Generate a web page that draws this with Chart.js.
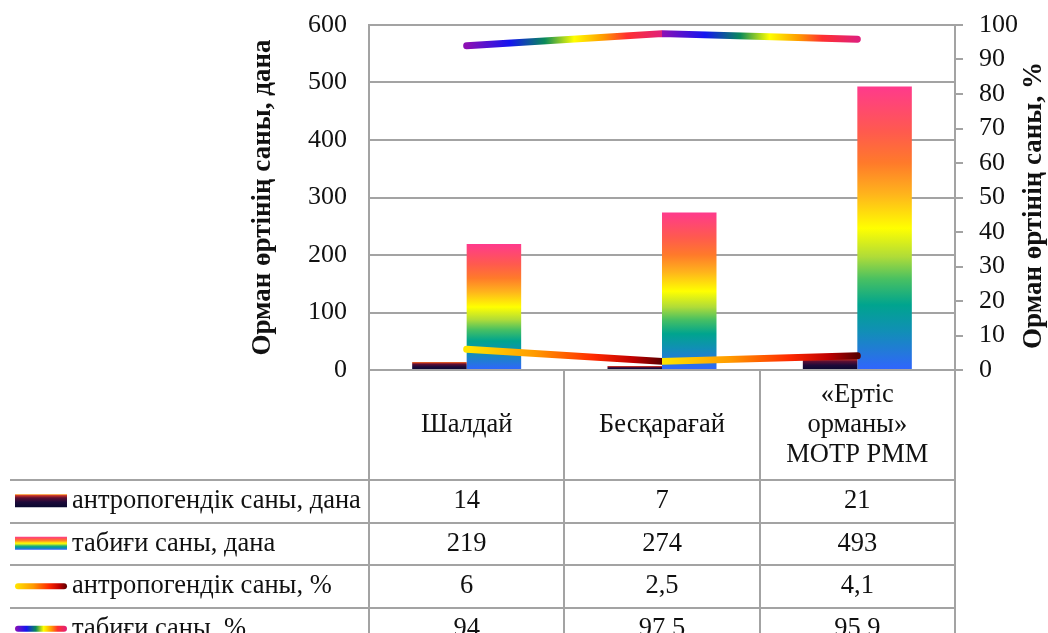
<!DOCTYPE html>
<html>
<head>
<meta charset="utf-8">
<script src="https://cdn.jsdelivr.net/npm/chart.js@4.4.1/dist/chart.umd.min.js"></script>
<style>
  html, body { margin: 0; padding: 0; background: #fff; }
  canvas { display: block; }
</style>
</head>
<body>
<canvas id="fires" width="1048" height="633"></canvas>
<script>
const sites = [['Шалдай'], ['Бесқарағай'], ['«Ертіс', 'орманы»', 'МОТР РММ']];
const seriesNames = [
  'антропогендік саны, дана',
  'табиғи саны, дана',
  'антропогендік саны, %',
  'табиғи саны, %'
];
const anthropoCount = [14, 7, 21];
const naturalCount = [219, 274, 493];
const anthropoPct = [6, 2.5, 4.1];
const naturalPct = [94, 97.5, 95.9];

const serif = "'Liberation Serif', 'Times New Roman', serif";
const ink = '#111111';
const rule = '#a3a3a3';

// gradient stops, top->bottom for bars, left->right for lines
const darkStops = [[0, '#ffa21f'], [0.1, '#c8352a'], [0.28, '#5e0f33'], [0.6, '#1e0a3a'], [1, '#08082e']];
const rainbowStops = [
  [0, '#ff3a8c'], [0.16, '#ff5a4e'], [0.27, '#ff7a2a'], [0.38, '#ffb41c'], [0.5, '#ffff00'],
  [0.6, '#b0dc38'], [0.68, '#48c062'], [0.77, '#00a48e'], [0.86, '#1090b4'], [0.94, '#2478dc'], [1, '#3064ff']
];
const warmStops = [[0, '#ffe600'], [0.35, '#ff9a00'], [0.65, '#ff2a00'], [0.85, '#c00000'], [1, '#5a0000']];
const spectrumStops = [
  [0, '#8c10b4'], [0.22, '#1414f0'], [0.4, '#0a8a5a'], [0.55, '#ffff00'],
  [0.7, '#ff9a00'], [0.82, '#ff3030'], [1, '#e0207a']
];

function addStops(g, stops, from, to) {
  stops.forEach(([o, c]) => g.addColorStop(from + o * (to - from), c));
}

// each bar gets its own full gradient from its top down to zero
function barFill(stops) {
  return (ctx) => {
    const y = ctx.chart.scales.y;
    const fallback = stops[stops.length - 1][1];
    if (!y || ctx.type !== 'data') return fallback;
    const top = y.getPixelForValue(ctx.raw);
    const base = y.getPixelForValue(0);
    if (!Number.isFinite(top) || !Number.isFinite(base) || top === base) return fallback;
    const g = ctx.chart.ctx.createLinearGradient(0, top, 0, base);
    addStops(g, stops, 0, 1);
    return g;
  };
}

// repeats the gradient once per line segment
function lineStroke(stops) {
  return (ctx) => {
    const chart = ctx.chart;
    const x = chart.scales.x;
    if (!x || !chart.chartArea) return stops[0][1];
    const n = chart.data.labels.length;
    const x0 = x.getPixelForValue(0);
    const x1 = x.getPixelForValue(n - 1);
    if (!Number.isFinite(x0) || !Number.isFinite(x1) || x0 === x1) return stops[0][1];
    const g = chart.ctx.createLinearGradient(x0, 0, x1, 0);
    for (let i = 0; i < n - 1; i++) addStops(g, stops, i / (n - 1), (i + 1) / (n - 1));
    return g;
  };
}

function hline(ctx, x0, y0, x1, y1) {
  ctx.beginPath();
  ctx.moveTo(x0, y0);
  ctx.lineTo(x1, y1);
  ctx.stroke();
}

function drawSwatch(ctx, r, x0, cy) {
  const w = 52;
  if (r < 2) {
    const g = ctx.createLinearGradient(0, cy - 7, 0, cy + 6);
    addStops(g, r === 0 ? darkStops : rainbowStops, 0, 1);
    ctx.fillStyle = g;
    ctx.fillRect(x0, cy - 7, w, 13);
  } else {
    const g = ctx.createLinearGradient(x0, 0, x0 + w, 0);
    addStops(g, r === 2 ? warmStops : spectrumStops, 0, 1);
    ctx.save();
    ctx.strokeStyle = g;
    ctx.lineWidth = 6;
    ctx.lineCap = 'round';
    hline(ctx, x0 + 3, cy, x0 + w - 3, cy);
    ctx.restore();
  }
}

// keep the value axes flush with the layout padding
function fixWidth(w) {
  return (s) => {
    s.width = w;
    s.paddingTop = 0;
    s.paddingBottom = 0;
  };
}

// data table under the plot plus the right axis title
const dataTable = {
  id: 'dataTable',
  afterDraw(chart) {
    const { ctx, chartArea: area } = chart;
    const xs = chart.scales.x;
    const band = xs.width / sites.length;
    const rows = [anthropoCount, naturalCount, anthropoPct, naturalPct];
    const headBottom = 480;
    const rowH = 42.5;

    ctx.save();
    ctx.strokeStyle = rule;
    ctx.lineWidth = 2;
    hline(ctx, area.left, area.bottom, area.left, chart.height);
    sites.forEach((_, i) => {
      const cx = Math.round(xs.getPixelForValue(i) + band / 2);
      hline(ctx, cx, area.bottom, cx, chart.height);
    });
    for (let r = 0; r <= rows.length; r++) {
      const yy = Math.round(headBottom + r * rowH);
      hline(ctx, 10, yy, area.right, yy);
    }

    ctx.fillStyle = ink;
    ctx.font = '26.5px ' + serif;
    ctx.textAlign = 'center';
    ctx.textBaseline = 'middle';
    const headMid = (area.bottom + headBottom) / 2;
    sites.forEach((lines, i) => {
      const cx = xs.getPixelForValue(i);
      lines.forEach((t, k) => ctx.fillText(t, cx, headMid + (k - (lines.length - 1) / 2) * 30));
    });

    rows.forEach((vals, r) => {
      const cy = headBottom + r * rowH + rowH / 2;
      ctx.fillStyle = ink;
      ctx.textAlign = 'center';
      vals.forEach((v, i) => ctx.fillText(String(v).replace('.', ','), xs.getPixelForValue(i), cy));
      ctx.textAlign = 'left';
      ctx.fillText(seriesNames[r], 72, cy);
      drawSwatch(ctx, r, 15, cy);
    });

    ctx.translate(1034, (area.top + area.bottom) / 2 + 8);
    ctx.rotate(-Math.PI / 2);
    ctx.fillStyle = ink;
    ctx.font = 'bold 27px ' + serif;
    ctx.textAlign = 'center';
    ctx.fillText('Орман өртінің саны, %', 0, 0);
    ctx.restore();
  }
};

const config = {
  type: 'bar',
  data: {
    labels: sites,
    datasets: [
      {
        type: 'line',
        label: seriesNames[2],
        data: anthropoPct,
        yAxisID: 'y1',
        order: 0,
        borderColor: lineStroke(warmStops),
        borderWidth: 7,
        borderCapStyle: 'round',
        borderJoinStyle: 'round',
        pointRadius: 0,
        fill: false,
        tension: 0
      },
      {
        type: 'line',
        label: seriesNames[3],
        data: naturalPct,
        yAxisID: 'y1',
        order: 0,
        borderColor: lineStroke(spectrumStops),
        borderWidth: 7,
        borderCapStyle: 'round',
        borderJoinStyle: 'round',
        pointRadius: 0,
        fill: false,
        tension: 0
      },
      {
        label: seriesNames[0],
        data: anthropoCount,
        yAxisID: 'y',
        order: 1,
        backgroundColor: barFill(darkStops)
      },
      {
        label: seriesNames[1],
        data: naturalCount,
        yAxisID: 'y',
        order: 1,
        backgroundColor: barFill(rainbowStops)
      }
    ]
  },
  options: {
    responsive: false,
    animation: false,
    categoryPercentage: 0.558,
    barPercentage: 1,
    layout: { autoPadding: false, padding: { left: 0, right: 0, top: 25, bottom: 263 } },
    plugins: {
      legend: { display: false },
      tooltip: { enabled: false }
    },
    scales: {
      x: {
        grid: { display: false },
        border: { display: true, color: rule, width: 2 },
        ticks: { display: false },
        afterFit: (s) => { s.height = 0; }
      },
      y: {
        position: 'left',
        min: 0,
        max: 600,
        ticks: { stepSize: 100, autoSkip: false, padding: 22, color: ink, font: { family: serif, size: 26 } },
        grid: { color: rule, lineWidth: 2, drawTicks: false },
        border: { display: true, color: rule, width: 2 },
        title: {
          display: true,
          text: 'Орман өртінің саны, дана',
          color: ink,
          font: { family: serif, size: 27, weight: 'bold' },
          padding: { top: 247, bottom: 0 }
        },
        afterFit: fixWidth(369)
      },
      y1: {
        position: 'right',
        min: 0,
        max: 100,
        ticks: { stepSize: 10, autoSkip: false, padding: 16, color: ink, font: { family: serif, size: 26 } },
        grid: { drawOnChartArea: false, color: rule, lineWidth: 2, tickLength: 8 },
        border: { display: true, color: rule, width: 2 },
        afterFit: fixWidth(93)
      }
    }
  },
  plugins: [dataTable]
};

window.onload = function () {
  new Chart(document.getElementById('fires').getContext('2d'), config);
};
</script>
</body>
</html>
